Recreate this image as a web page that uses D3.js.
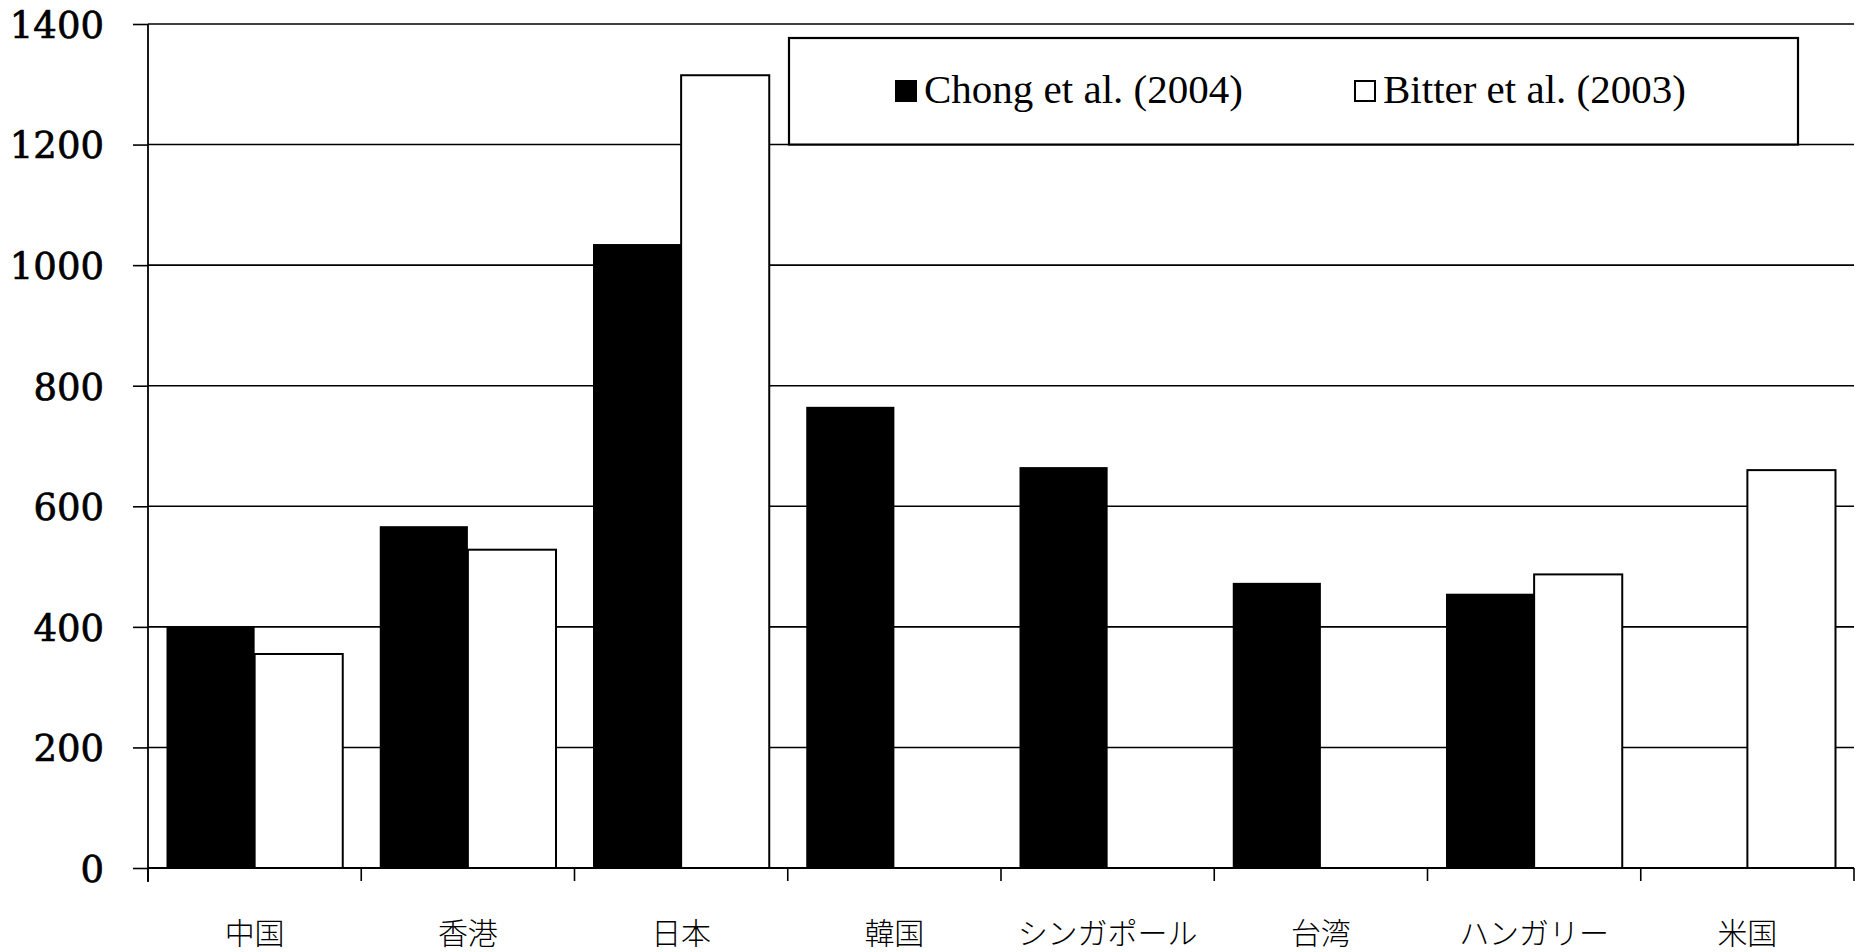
<!DOCTYPE html>
<html>
<head>
<meta charset="utf-8">
<script src="https://cdn.jsdelivr.net/npm/d3@7"></script>
<style>
  html, body { margin: 0; padding: 0; background: #fff; }
  svg { display: block; }
</style>
</head>
<body>
<svg id="chart" width="1858" height="952"></svg>
<script>
// Categories (countries / regions)
const categories = ["中国", "香港", "日本", "韓国", "シンガポール", "台湾", "ハンガリー", "米国"];

// Series names
const seriesNames = ["Chong et al. (2004)", "Bitter et al. (2003)"];

// Series values (null = no data)
const chongValues  = [400, 567, 1035, 765, 665, 473, 455, null];
const bitterValues = [355, 528, 1315, null, null, null, 487, 660];

// Y axis ticks
const yTicks = [0, 200, 400, 600, 800, 1000, 1200, 1400];

const svg = d3.select("#chart");

const plot = { left: 148, right: 1854, top: 24, bottom: 868 };

const x0 = d3.scaleBand()
  .domain(categories)
  .range([plot.left, plot.right])
  .padding(0);

const x1 = d3.scaleBand()
  .domain(seriesNames)
  .range([0, x0.bandwidth()])
  .paddingInner(0)
  .paddingOuter(0.21);

const y = d3.scaleLinear()
  .domain([0, 1400])
  .range([plot.bottom, plot.top]);

const rows = categories.map((c, i) => ({
  category: c,
  values: [
    { series: seriesNames[0], value: chongValues[i] },
    { series: seriesNames[1], value: bitterValues[i] }
  ]
}));

const fills = { [seriesNames[0]]: "#000", [seriesNames[1]]: "#fff" };

// Horizontal gridlines
svg.append("g")
  .selectAll("line")
  .data(yTicks.filter(t => t > 0))
  .join("line")
  .attr("x1", plot.left)
  .attr("x2", plot.right)
  .attr("y1", d => y(d))
  .attr("y2", d => y(d))
  .attr("stroke", "#000")
  .attr("stroke-width", 1.6);

// Bars
const groups = svg.append("g")
  .selectAll("g")
  .data(rows)
  .join("g")
  .attr("transform", d => `translate(${x0(d.category)},0)`);

groups.selectAll("rect")
  .data(d => d.values.filter(v => v.value != null))
  .join("rect")
  .attr("x", d => x1(d.series))
  .attr("y", d => y(d.value))
  .attr("width", x1.bandwidth())
  .attr("height", d => y(0) - y(d.value))
  .attr("fill", d => fills[d.series])
  .attr("stroke", "#000")
  .attr("stroke-width", d => d.series === seriesNames[1] ? 2 : 0);

// Y axis
const yAxis = d3.axisLeft(y)
  .tickValues(yTicks)
  .tickSize(15)
  .tickPadding(29)
  .tickFormat(d3.format("d"));

const gy = svg.append("g")
  .attr("transform", `translate(${plot.left},0)`)
  .call(yAxis);

gy.select(".domain")
  .attr("d", `M0,${plot.top}V${plot.bottom + 14}`)
  .attr("stroke", "#000")
  .attr("stroke-width", 1.8);

gy.selectAll(".tick line")
  .attr("stroke", "#000")
  .attr("stroke-width", 1.6);

gy.selectAll(".tick text")
  .attr("font-family", "'DejaVu Serif', serif")
  .attr("font-size", 37)
  .attr("fill", "#000")
  .attr("stroke", "#000")
  .attr("stroke-width", 0.7)
  .attr("dy", "0.36em");

// X axis: baseline with ticks at category boundaries
const gx = svg.append("g");

gx.append("line")
  .attr("x1", plot.left)
  .attr("x2", plot.right)
  .attr("y1", y(0))
  .attr("y2", y(0))
  .attr("stroke", "#000")
  .attr("stroke-width", 1.8);

const boundaries = categories.map(c => x0(c)).concat([x0(categories[categories.length - 1]) + x0.bandwidth()]);

gx.selectAll("line.tk")
  .data(boundaries)
  .join("line")
  .attr("class", "tk")
  .attr("x1", d => d)
  .attr("x2", d => d)
  .attr("y1", y(0))
  .attr("y2", y(0) + 13)
  .attr("stroke", "#000")
  .attr("stroke-width", 1.6);

gx.selectAll("text")
  .data(categories)
  .join("text")
  .attr("x", d => x0(d) + x0.bandwidth() / 2)
  .attr("y", 944)
  .attr("text-anchor", "middle")
  .attr("font-family", "'Noto Sans CJK JP', sans-serif")
  .attr("font-weight", 300)
  .attr("font-size", 30)
  .attr("fill", "#000")
  .text(d => d);

// Legend
const legend = svg.append("g");

legend.append("rect")
  .attr("x", 789)
  .attr("y", 38)
  .attr("width", 1009)
  .attr("height", y(1200) - 38)
  .attr("fill", "#fff")
  .attr("stroke", "#000")
  .attr("stroke-width", 2.2);

const legendItems = [
  { name: seriesNames[0], boxX: 895, textX: 924 },
  { name: seriesNames[1], boxX: 1354, textX: 1383 }
];

legend.selectAll("rect.key")
  .data(legendItems)
  .join("rect")
  .attr("class", "key")
  .attr("x", d => d.name === seriesNames[0] ? d.boxX : d.boxX + 1)
  .attr("y", d => d.name === seriesNames[0] ? 80 : 81)
  .attr("width", d => d.name === seriesNames[0] ? 22 : 20)
  .attr("height", d => d.name === seriesNames[0] ? 22 : 20)
  .attr("fill", d => fills[d.name])
  .attr("stroke", "#000")
  .attr("stroke-width", d => d.name === seriesNames[0] ? 0 : 2);

legend.selectAll("text")
  .data(legendItems)
  .join("text")
  .attr("x", d => d.textX)
  .attr("y", 103)
  .attr("font-family", "'Liberation Serif', 'Times New Roman', serif")
  .attr("font-size", 41)
  .attr("fill", "#000")
  .text(d => d.name);
</script>
</body>
</html>
